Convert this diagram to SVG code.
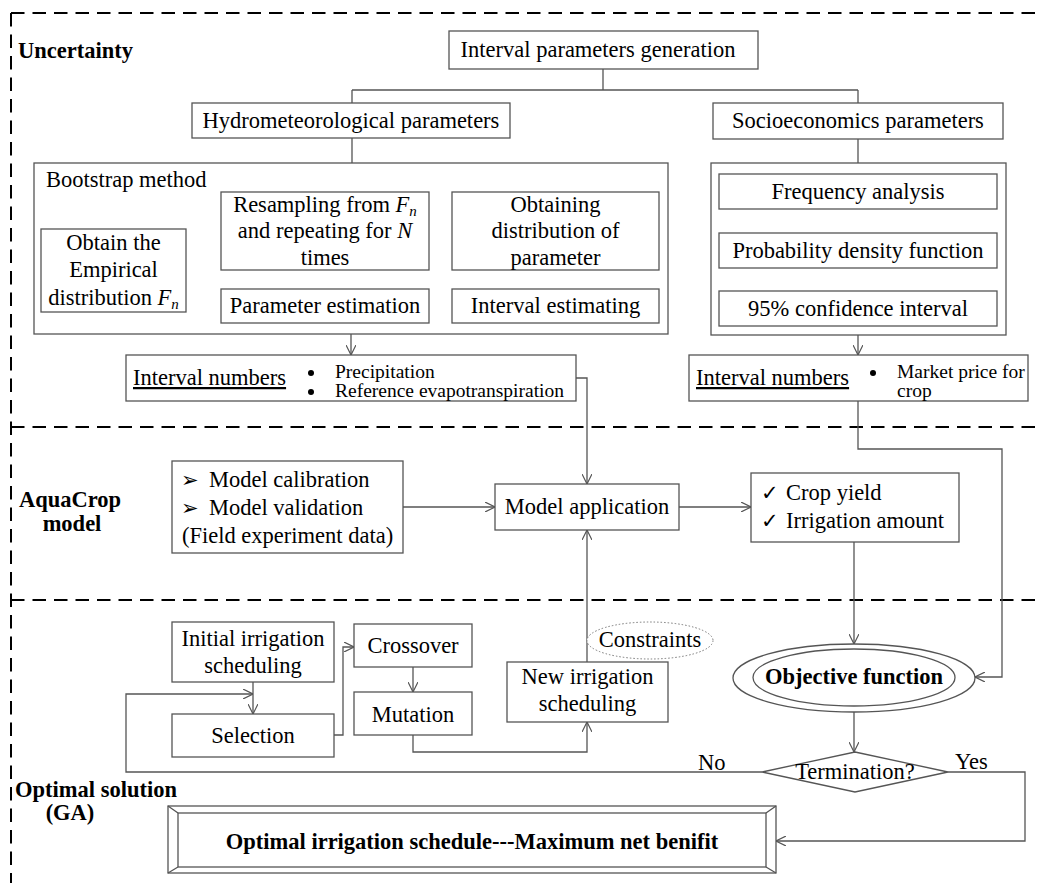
<svg xmlns="http://www.w3.org/2000/svg" width="1040" height="883" viewBox="0 0 1040 883">
<style>
.box{fill:#fff;stroke:#555;stroke-width:1.3}
.t{font-family:"Liberation Serif",serif;font-size:22.5px;fill:#000}
.m{text-anchor:middle}
.b{font-weight:bold}
.s{font-size:19.5px}
.dot{fill:#000}
.c{fill:none;stroke:#555;stroke-width:1.3}
.a{marker-end:url(#ah)}
.d{fill:none;stroke:#000;stroke-width:2;stroke-dasharray:13.5 8}
.i{font-style:italic}
.sym{font-family:"DejaVu Sans",sans-serif;font-size:21px}
</style>
<defs>
<marker id="ah" viewBox="0 0 10 10" refX="10" refY="5" markerWidth="10" markerHeight="10" markerUnits="userSpaceOnUse" orient="auto">
<path d="M0,0 L10,5 L0,10" fill="none" stroke="#555" stroke-width="1.2"/>
</marker>
</defs>
<rect width="1040" height="883" fill="#fff"/>
<g id="frame">
<path class="d" d="M11,13 H1040 M11,13 V883 M11,427 H1040 M11,600 H1040"/>
<text class="t b" x="18" y="58">Uncertainty</text>
<text class="t b m" x="70" y="507">AquaCrop</text>
<text class="t b m" x="72" y="531">model</text>
<text class="t b" x="15" y="797">Optimal solution</text>
<text class="t b m" x="70" y="820">(GA)</text>
</g>
<g id="connectors">
<path class="c" d="M603,69 V90 M352,90 H858 M352,90 V103 M858,90 V103 M352,138 V163 M858,139 V163"/>
<path class="c a" d="M186,270 H204 V232 H221"/>
<path class="c a" d="M325,270 V289"/>
<path class="c a" d="M429,305 H436 V232 H452"/>
<path class="c a" d="M555,270 V289"/>
<path class="c a" d="M351,334 V355"/>
<path class="c a" d="M858,209 V233"/>
<path class="c a" d="M858,268 V291"/>
<path class="c a" d="M858,335 V355"/>
<path class="c a" d="M576,378 H587 V484"/>
<path class="c a" d="M858,401 V449 H1002 V677 H975"/>
<path class="c a" d="M403,507 H495"/>
<path class="c a" d="M679,507 H751"/>
<path class="c a" d="M854,542 V644"/>
<path class="c a" d="M854,712 V752"/>
<path class="c a" d="M762,772 H126 V694 H253"/>
<path class="c a" d="M253,682 V714"/>
<path class="c a" d="M334,735 H343 V647 H354"/>
<path class="c a" d="M413,667 V692"/>
<path class="c a" d="M413,735 V752 H587 V722"/>
<path class="c a" d="M587,662 V530"/>
<path class="c a" d="M948,772 H1025 V841 H776"/>
<text class="t" x="698" y="770">No</text>
<text class="t" x="955" y="769">Yes</text>
</g>
<g id="n-gen">
<rect class="box" x="449" y="31" width="309" height="38"/>
<text class="t m" x="598" y="57" font-size="23.4">Interval parameters generation</text>
</g>
<g id="n-hydro">
<rect class="box" x="192" y="103" width="318" height="35"/>
<text class="t m" x="351" y="128">Hydrometeorological parameters</text>
</g>
<g id="n-socio">
<rect class="box" x="713" y="103" width="290" height="36"/>
<text class="t m" x="858" y="128">Socioeconomics parameters</text>
</g>
<g id="n-bootstrap">
<rect class="box" x="34" y="163" width="634" height="171"/>
<text class="t" x="46" y="187">Bootstrap method</text>
</g>
<g id="n-obtain">
<rect class="box" x="41" y="229" width="145" height="83"/>
<text class="t m" x="113.5" y="250">Obtain the</text>
<text class="t m" x="113.5" y="277">Empirical</text>
<text class="t m" x="113.5" y="305">distribution <tspan class="i">F</tspan><tspan class="i" font-size="15" dy="4">n</tspan></text>
</g>
<g id="n-resampling">
<rect class="box" x="221" y="192" width="208" height="78"/>
<text class="t m" x="325" y="212">Resampling from <tspan class="i">F</tspan><tspan class="i" font-size="15" dy="4">n</tspan></text>
<text class="t m" x="325" y="238">and repeating for <tspan class="i">N</tspan></text>
<text class="t m" x="325" y="265">times</text>
</g>
<g id="n-param-est">
<rect class="box" x="221" y="289" width="208" height="34"/>
<text class="t m" x="325" y="313">Parameter estimation</text>
</g>
<g id="n-obtaining">
<rect class="box" x="452" y="192" width="207" height="78"/>
<text class="t m" x="555.5" y="212">Obtaining</text>
<text class="t m" x="555.5" y="238">distribution of</text>
<text class="t m" x="555.5" y="265">parameter</text>
</g>
<g id="n-interval-est">
<rect class="box" x="452" y="289" width="207" height="34"/>
<text class="t m" x="555.5" y="313">Interval estimating</text>
</g>
<g id="n-socio-box">
<rect class="box" x="711" y="163" width="295" height="172"/>
</g>
<g id="n-freq">
<rect class="box" x="719" y="174" width="278" height="35"/>
<text class="t m" x="858" y="199">Frequency analysis</text>
</g>
<g id="n-pdf">
<rect class="box" x="719" y="233" width="278" height="35"/>
<text class="t m" x="858" y="258">Probability density function</text>
</g>
<g id="n-ci">
<rect class="box" x="719" y="291" width="278" height="35"/>
<text class="t m" x="858" y="316">95% confidence interval</text>
</g>
<g id="n-in-left">
<rect class="box" x="126" y="355" width="450" height="46"/>
<text class="t" x="133" y="385" text-decoration="underline">Interval numbers</text>
<circle class="dot" cx="311" cy="373" r="3"/>
<circle class="dot" cx="311" cy="392" r="3"/>
<text class="t s" x="335" y="378">Precipitation</text>
<text class="t s" x="335" y="397">Reference evapotranspiration</text>
</g>
<g id="n-in-right">
<rect class="box" x="689" y="355" width="339" height="46"/>
<text class="t" x="696" y="385" text-decoration="underline">Interval numbers</text>
<circle class="dot" cx="873" cy="373" r="3"/>
<text class="t s" x="897" y="378">Market price for</text>
<text class="t s" x="897" y="397">crop</text>
</g>
<g id="n-calib">
<rect class="box" x="172" y="461" width="231" height="92"/>
<text class="t" x="181" y="487"><tspan class="sym">➢</tspan><tspan x="209">Model calibration</tspan></text>
<text class="t" x="181" y="515"><tspan class="sym">➢</tspan><tspan x="209">Model validation</tspan></text>
<text class="t" x="182" y="543">(Field experiment data)</text>
</g>
<g id="n-model-app">
<rect class="box" x="495" y="484" width="184" height="46"/>
<text class="t m" x="587" y="514">Model application</text>
</g>
<g id="n-yield">
<rect class="box" x="751" y="473" width="208" height="69"/>
<text class="t" x="761" y="500"><tspan class="sym" font-size="19">✓</tspan><tspan x="786">Crop yield</tspan></text>
<text class="t" x="761" y="528"><tspan class="sym" font-size="19">✓</tspan><tspan x="786">Irrigation amount</tspan></text>
</g>
<g id="n-objective">
<ellipse cx="854" cy="678" rx="121" ry="34" fill="#fff" stroke="#555" stroke-width="1.3"/>
<ellipse cx="854" cy="677.5" rx="101" ry="28.5" fill="none" stroke="#555" stroke-width="1.3"/>
<text class="t m b" x="854" y="684">Objective function</text>
</g>
<g id="n-termination">
<polygon class="box" points="855,752 948,772 855,792 762,772"/>
<text class="t m" x="855" y="779">Termination?</text>
</g>
<g id="n-initial">
<rect class="box" x="172" y="622" width="162" height="60"/>
<text class="t m" x="253" y="646">Initial irrigation</text>
<text class="t m" x="253" y="673">scheduling</text>
</g>
<g id="n-selection">
<rect class="box" x="172" y="714" width="162" height="43"/>
<text class="t m" x="253" y="743">Selection</text>
</g>
<g id="n-crossover">
<rect class="box" x="354" y="624" width="118" height="43"/>
<text class="t m" x="413" y="653">Crossover</text>
</g>
<g id="n-mutation">
<rect class="box" x="354" y="692" width="118" height="43"/>
<text class="t m" x="413" y="722">Mutation</text>
</g>
<g id="n-new">
<rect class="box" x="507" y="662" width="161" height="60"/>
<text class="t m" x="587.5" y="684">New irrigation</text>
<text class="t m" x="587.5" y="711">scheduling</text>
</g>
<g id="n-constraints">
<ellipse cx="650" cy="640.5" rx="63" ry="18.5" fill="#fff" stroke="#777" stroke-width="1" stroke-dasharray="1.5 2"/>
<text class="t m" x="650" y="647" font-size="17">Constraints</text>
</g>
<g id="n-optimal">
<rect class="box" x="168" y="806" width="608" height="67"/>
<rect class="box" x="178" y="813" width="588" height="54"/>
<path class="c" d="M168,806 L178,813 M776,806 L766,813 M168,873 L178,867 M776,873 L766,867"/>
<text class="t m b" x="472" y="849">Optimal irrigation schedule---Maximum net benifit</text>
</g>
</svg>
